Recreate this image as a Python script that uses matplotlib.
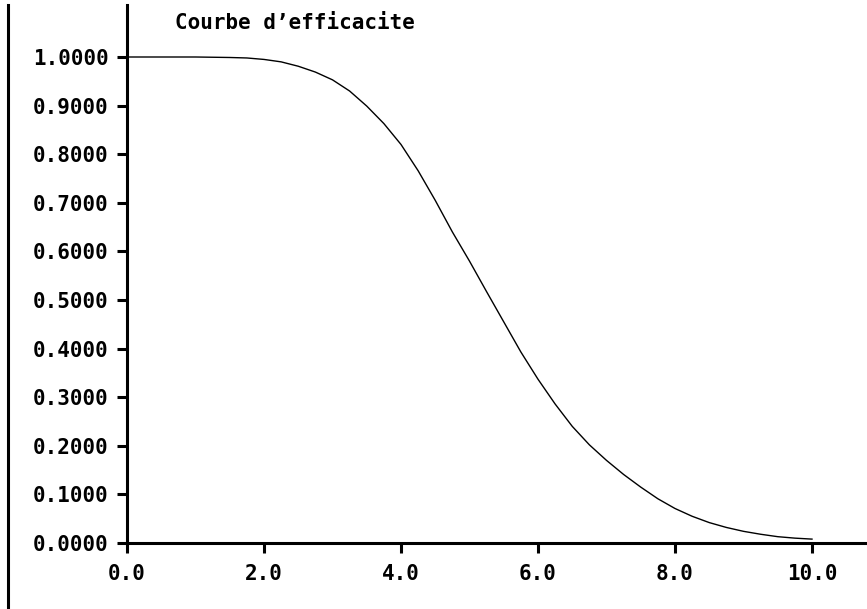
import numpy as np
import matplotlib
matplotlib.use('Agg')
import matplotlib.pyplot as plt
from matplotlib.lines import Line2D

# efficiency curve (courbe d'efficacite)
x_vals = [0.0, 0.5, 1.0, 1.5, 1.75, 2.0, 2.25, 2.5, 2.75, 3.0, 3.25, 3.5, 3.75,
          4.0, 4.25, 4.5, 4.75, 5.0, 5.25, 5.5, 5.75, 6.0, 6.25, 6.5, 6.75,
          7.0, 7.25, 7.5, 7.75, 8.0, 8.25, 8.5, 8.75, 9.0, 9.25, 9.5, 9.75, 10.0]
eff_vals = [1.000, 1.000, 1.000, 0.999, 0.998, 0.995, 0.990, 0.981, 0.969, 0.953,
            0.930, 0.899, 0.863, 0.820, 0.766, 0.705, 0.640, 0.580, 0.517, 0.455,
            0.393, 0.337, 0.286, 0.240, 0.202, 0.170, 0.141, 0.115, 0.091, 0.071,
            0.055, 0.042, 0.032, 0.024, 0.018, 0.013, 0.010, 0.008]

xticks = [0.0, 2.0, 4.0, 6.0, 8.0, 10.0]
yticks = [0.0, 0.1, 0.2, 0.3, 0.4, 0.5, 0.6, 0.7, 0.8, 0.9, 1.0]

fnt = {'family': 'DejaVu Sans Mono', 'weight': 'bold', 'size': 15}

fig = plt.figure(figsize=(8.67, 6.09), dpi=100)
ax = fig.add_axes([127/867, 66/609, 740/867, 538/609])

ax.plot(x_vals, eff_vals, color='black', lw=1.0)

# 68.5 px per x unit, 486 px per y unit
ax.set_xlim(0, 740/68.5)
ax.set_ylim(0, 538/486.)
ax.set_xticks(xticks)
ax.set_yticks(yticks)
ax.set_xticklabels(['%.1f' % v for v in xticks], fontdict=fnt)
ax.set_yticklabels(['%.4f' % v for v in yticks], fontdict=fnt)
ax.tick_params(axis='both', direction='out', length=7, width=2.2, color='black')
ax.tick_params(axis='x', pad=8)
ax.tick_params(axis='y', pad=6)

for s in ['top', 'right']:
    ax.spines[s].set_visible(False)
for s in ['left', 'bottom']:
    ax.spines[s].set_linewidth(2.2)
    ax.spines[s].set_color('black')

fig.text(175/867, 1 - 23/609, "Courbe d\u2019efficacite", ha='left', va='center', **fnt)

# page border on the left
fig.add_artist(Line2D([8/867, 8/867], [0, 1 - 5/609], transform=fig.transFigure,
                      color='black', lw=2.2))

fig.savefig('out.png', dpi=100)
